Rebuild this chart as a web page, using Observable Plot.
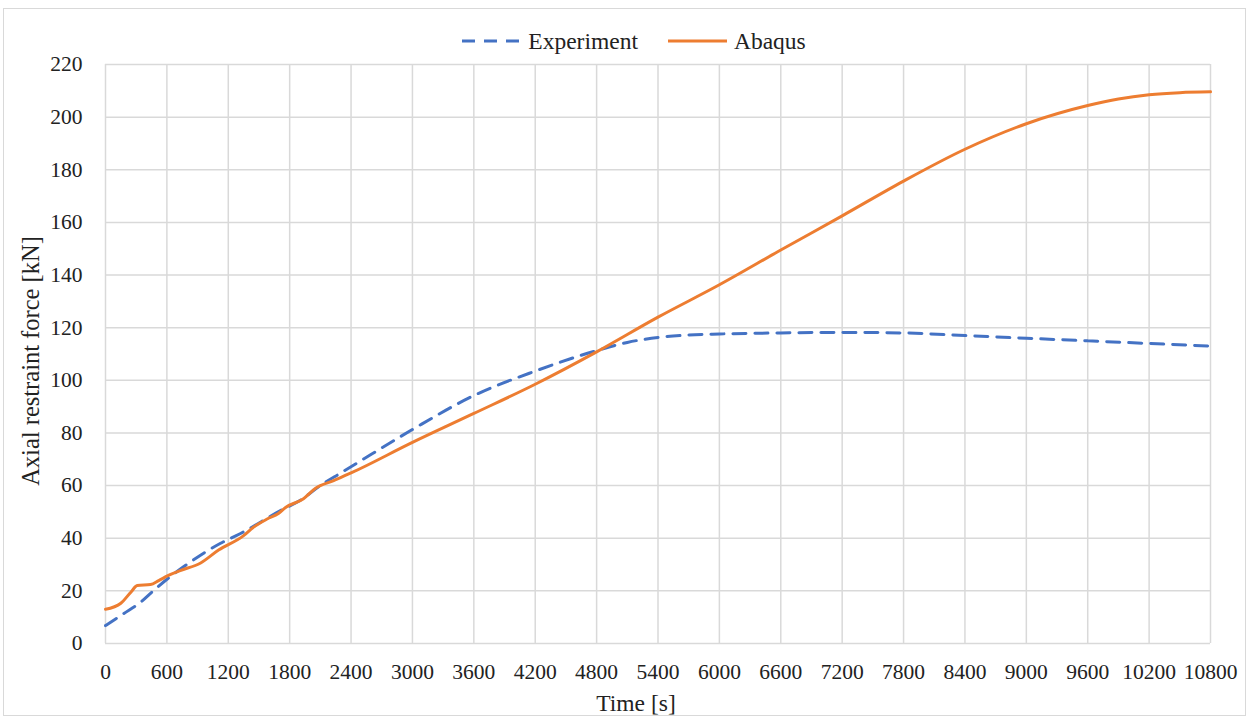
<!DOCTYPE html>
<html>
<head>
<meta charset="utf-8">
<script src="https://cdn.jsdelivr.net/npm/d3@7"></script>
<script src="https://cdn.jsdelivr.net/npm/@observablehq/plot@0.6"></script>
<style>
  html, body { margin: 0; padding: 0; background: #fff; }
  #wrap { position: relative; width: 1253px; height: 722px; font-family: "Liberation Serif", "Times New Roman", "DejaVu Serif", serif; color: #222; }
  #frame { position: absolute; left: 3px; top: 8px; width: 1243px; height: 708px; border: 1px solid #d9d9d9; box-sizing: border-box; }
  #legend { position: absolute; left: 0; top: 26px; width: 1268px; height: 30px; display: flex; justify-content: center; align-items: center; font-size: 23.5px; z-index: 2; }
  #legend .item { display: flex; align-items: center; }
  #legend svg { margin-right: 7px; }
  #chart { position: absolute; left: 0; top: 0; }
  #chart svg, #chart svg text { font-family: "Liberation Serif", "Times New Roman", "DejaVu Serif", serif; }
</style>
</head>
<body>
<div id="wrap">
  <div id="frame"></div>
  <div id="chart"></div>
  <div id="legend"></div>
</div>
<script>
// ---- data ----
const expTime  = [0, 180, 340, 470, 610, 780, 1120, 1320, 1710, 1900, 2100, 2300, 2460, 3000, 3600, 4200, 4800, 5100, 5400, 5700, 6000, 6600, 7200, 7800, 8400, 9000, 9600, 10200, 10800];
const expForce = [6.8, 11.4, 15.6, 20.1, 24.7, 29.6, 38, 41.8, 50.5, 54.3, 60, 64.8, 68.6, 81.3, 94.2, 103.5, 111.3, 114.4, 116.3, 117.2, 117.6, 118, 118.2, 118, 117, 116, 115, 114, 113];

const abqTime  = [0, 150, 250, 310, 440, 520, 610, 730, 930, 1105, 1350, 1440, 1580, 1690, 1760, 1935, 2050, 2230, 2400, 3000, 3600, 4200, 4800, 5400, 6000, 6600, 7200, 7800, 8400, 9000, 9600, 9900, 10200, 10500, 10800];
const abqForce = [13, 15.3, 19.6, 22, 22.4, 23.9, 25.8, 27.7, 30.6, 35.5, 41, 44, 47.3, 49.4, 51.7, 55, 58.9, 61.9, 64.8, 76.4, 87.4, 98.5, 110.8, 124, 136.3, 149.5, 162.5, 175.7, 187.8, 197.5, 204.4, 206.9, 208.5, 209.3, 209.6];

const xTicks = [0, 600, 1200, 1800, 2400, 3000, 3600, 4200, 4800, 5400, 6000, 6600, 7200, 7800, 8400, 9000, 9600, 10200, 10800];
const yTicks = [0, 20, 40, 60, 80, 100, 120, 140, 160, 180, 200, 220];

const seriesNames = ["Experiment", "Abaqus"];
const seriesColors = ["#4472C4", "#ED7D31"];
const xLabel = "Time [s]";
const yLabel = "Axial restraint force [kN]";

const expData = expTime.map((t, i) => ({t, f: expForce[i]}));
const abqData = abqTime.map((t, i) => ({t, f: abqForce[i]}));

// ---- legend ----
const legend = document.getElementById("legend");
seriesNames.forEach((name, i) => {
  const item = document.createElement("div");
  item.className = "item";
  if (i > 0) item.style.marginLeft = "30px";
  const dash = i === 0 ? 'stroke-dasharray="13,9"' : '';
  item.innerHTML = `<svg width="59" height="6"><line x1="0" y1="3" x2="59" y2="3" stroke="${seriesColors[i]}" stroke-width="3" ${dash}/></svg><span>${name}</span>`;
  legend.appendChild(item);
});

// ---- chart ----
const chart = Plot.plot({
  width: 1253,
  height: 722,
  marginLeft: 105,
  marginRight: 43,
  marginTop: 64,
  marginBottom: 79,
  style: { fontFamily: "'Liberation Serif', 'Times New Roman', 'DejaVu Serif', serif", fontSize: "21.5px", color: "#222", background: "transparent", overflow: "visible" },
  x: { domain: [0, 10800], ticks: xTicks, tickFormat: d => String(d), label: null },
  y: { domain: [0, 220], ticks: yTicks, label: null },
  marks: [
    Plot.gridX(xTicks, { stroke: "#d9d9d9", strokeOpacity: 1, strokeWidth: 1.5 }),
    Plot.gridY(yTicks, { stroke: "#d9d9d9", strokeOpacity: 1, strokeWidth: 1.5 }),
    Plot.axisX(xTicks, { tickSize: 0, tickPadding: 20, tickFormat: d => String(d), label: null, fontSize: 21.5 }),
    Plot.axisY(yTicks, { tickSize: 0, tickPadding: 23, label: null, fontSize: 21.5 }),
    Plot.line(expData, { x: "t", y: "f", stroke: seriesColors[0], strokeWidth: 3, strokeDasharray: "13,9", curve: "monotone-x" }),
    Plot.line(abqData, { x: "t", y: "f", stroke: seriesColors[1], strokeWidth: 3, curve: "monotone-x" }),
    Plot.text([yLabel], { text: d => d, frameAnchor: "left", textAnchor: "middle", lineAnchor: "middle", dx: -74, dy: 7, rotate: -90, fontSize: 24.5, fill: "#222" }),
    Plot.text([xLabel], { text: d => d, frameAnchor: "bottom", textAnchor: "middle", lineAnchor: "middle", dy: 60, dx: -22, fontSize: 23.5, fill: "#222" })
  ]
});
document.getElementById("chart").appendChild(chart);
</script>
</body>
</html>
